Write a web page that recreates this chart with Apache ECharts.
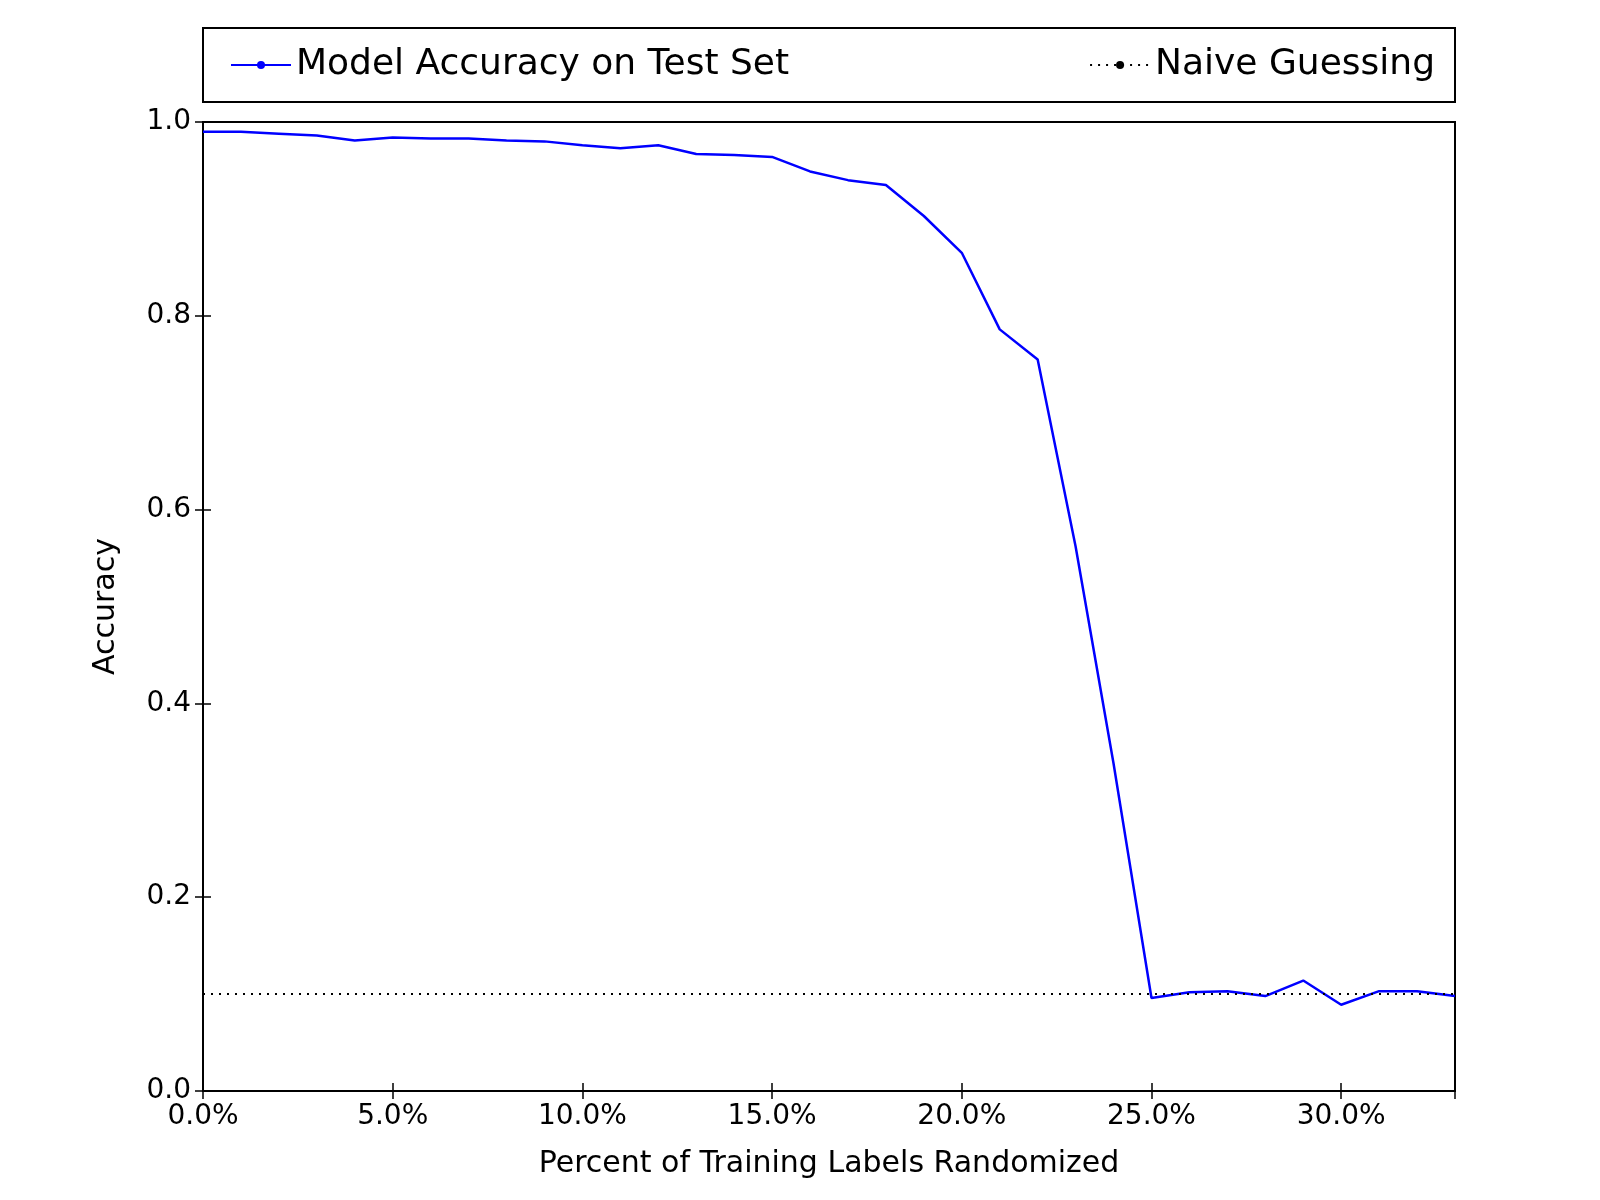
<!DOCTYPE html>
<html>
<head>
<meta charset="utf-8">
<script src="https://cdn.jsdelivr.net/npm/echarts@6/dist/echarts.min.js"></script>
<style>html,body{margin:0;background:#fff}#chart{width:1600px;height:1200px}</style>
</head>
<body>
<div id="chart"></div>
<script>
// 横轴：训练标签随机化百分比
const percents = [0,1,2,3,4,5,6,7,8,9,10,11,12,13,14,15,16,17,18,19,20,21,22,23,24,25,26,27,28,29,30,31,32,33];
const accuracy = [0.990,0.990,0.988,0.986,0.981,0.984,0.983,0.983,0.981,0.980,0.976,0.973,0.976,0.967,0.966,0.964,0.949,0.940,0.935,0.903,0.865,0.786,0.755,0.562,0.338,0.096,0.102,0.103,0.098,0.114,0.089,0.103,0.103,0.098];
const naiveX = [0, 33];
const naiveY = [0.1, 0.1];

const chart = echarts.init(document.getElementById('chart'));
const font = 'DejaVu Sans';
const tickStyle = { show: true, inside: true, length: 8, lineStyle: { color: '#000', width: 1.5 } };

chart.setOption({
    textStyle: { fontFamily: font },
    animation: false,
    grid: { left: 203, right: 145, top: 122, bottom: 109, show: true, borderColor: '#000', borderWidth: 2 },
    graphic: [{ type: 'rect', shape: { x: 203, y: 28, width: 1252, height: 74 },
        style: { fill: 'none', stroke: '#000', lineWidth: 2 } }],
    legend: [
        { left: 225, top: 42, itemWidth: 60, itemHeight: 10, itemGap: 20, data: ['Model Accuracy on Test Set'],
          textStyle: { fontSize: 36, color: '#000', fontFamily: font } },
        { right: 160, top: 42, itemWidth: 60, itemHeight: 10, data: ['Naive Guessing'],
          textStyle: { fontSize: 36, color: '#000', fontFamily: font } }
    ],
    xAxis: [
        { type: 'value', min: 0, max: 33, interval: 5, name: 'Percent of Training Labels Randomized',
          nameLocation: 'middle', nameGap: 58, nameTextStyle: { fontSize: 30, color: '#000' },
          axisLine: { show: false }, axisTick: tickStyle, splitLine: { show: false },
          axisLabel: { fontSize: 28, color: '#000', margin: 12, showMaxLabel: false,
              formatter: v => v.toFixed(1) + '%' } },
        { type: 'value', position: 'top', min: 0, max: 33, interval: 5, axisLine: { show: false },
          axisTick: tickStyle, axisLabel: { show: false }, splitLine: { show: false } }
    ],
    yAxis: [
        { type: 'value', min: 0, max: 1, interval: 0.2, name: 'Accuracy', nameLocation: 'middle', nameGap: 82,
          nameTextStyle: { fontSize: 30, color: '#000' }, axisLine: { show: false }, axisTick: tickStyle,
          splitLine: { show: false },
          axisLabel: { fontSize: 28, color: '#000', margin: 12, formatter: v => v.toFixed(1) } },
        { type: 'value', position: 'right', min: 0, max: 1, interval: 0.2, axisLine: { show: false },
          axisTick: tickStyle, axisLabel: { show: false }, splitLine: { show: false } }
    ],
    series: [
        { name: 'Model Accuracy on Test Set', type: 'line', symbol: 'none',
          lineStyle: { color: '#0000ff', width: 2.5 }, itemStyle: { color: '#0000ff' },
          data: percents.map((p, i) => [p, accuracy[i]]) },
        { name: 'Naive Guessing', type: 'line', symbol: 'none',
          lineStyle: { color: '#000', width: 2, type: [2, 6] }, itemStyle: { color: '#000' },
          data: naiveX.map((x, i) => [x, naiveY[i]]) }
    ]
});
</script>
</body>
</html>
